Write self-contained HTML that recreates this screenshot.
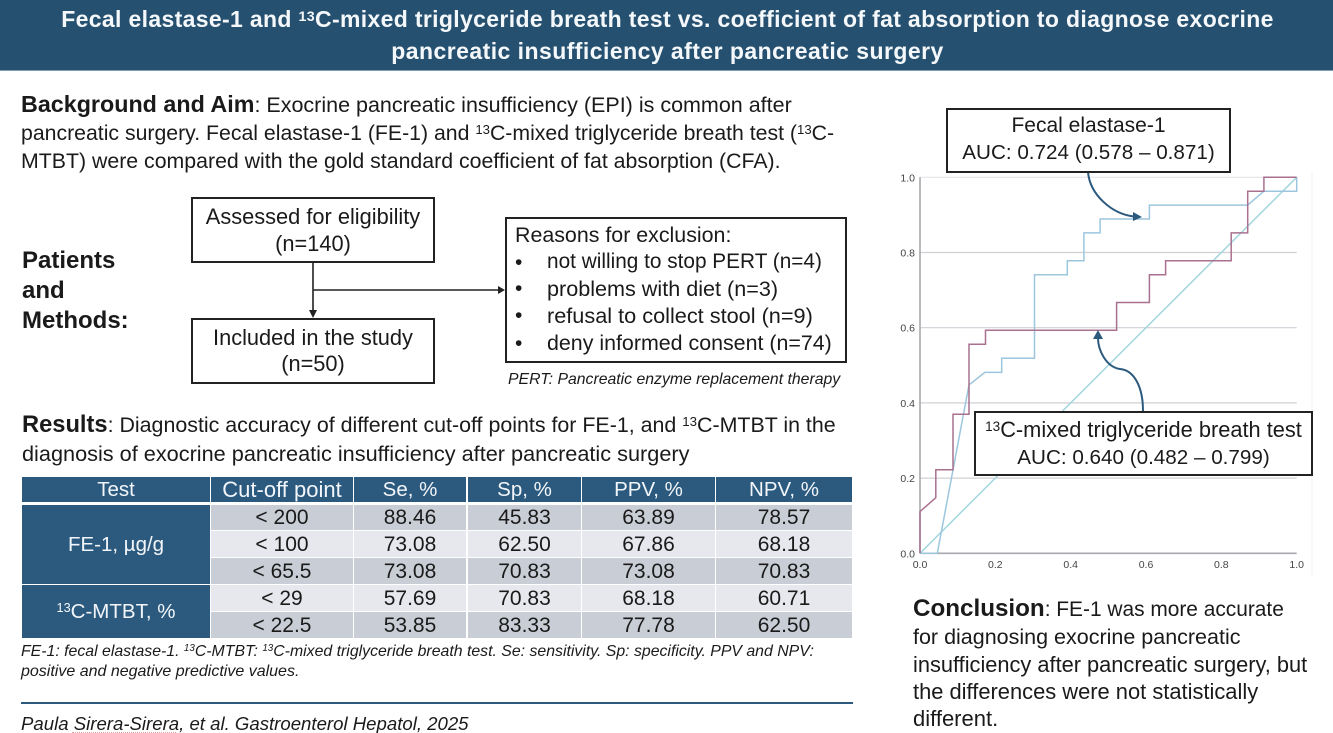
<!DOCTYPE html>
<html lang="en">
<head>
<meta charset="utf-8">
<title>Fecal elastase-1 and 13C-MTBT graphical abstract</title>
<style>
html,body{margin:0;padding:0;background:#fff}
#page{position:relative;width:1333px;height:733px;overflow:hidden;background:#fff;font-family:"Liberation Sans",sans-serif;color:#1a1a1a}
.t{position:absolute;white-space:nowrap;line-height:1}
.c{text-align:center}
sup{font-size:.62em;line-height:0;vertical-align:baseline;position:relative;top:-.42em}
.box{position:absolute;box-sizing:border-box;border:2px solid #222;background:#fff}
.cell{position:absolute;box-sizing:border-box;padding-top:1px;display:flex;align-items:center;justify-content:center;font-size:21px;line-height:1;white-space:nowrap}
.h{background:#2c5a7f;color:#f2f6fa;font-size:20.5px}
.o{background:#c9ced6}
.e{background:#e6e8ed}
svg{position:absolute;left:0;top:0}
</style>
</head>
<body>
<div id="page">

<div style="position:absolute;left:0;top:0;width:1333px;height:70px;background:#26506f;border-bottom:1px solid #7fa0b8"></div>
<div class="t c" style="left:0;width:1335px;top:8px;font-size:23px;letter-spacing:.34px;font-weight:bold;color:#f4f8fb">Fecal elastase-1 and <sup>13</sup>C-mixed triglyceride breath test vs. coefficient of fat absorption to diagnose exocrine</div>
<div class="t c" style="left:0;width:1335px;top:40px;font-size:23px;letter-spacing:.45px;font-weight:bold;color:#f4f8fb">pancreatic insufficiency after pancreatic surgery</div>

<div class="t" style="left:21px;top:93px;font-size:21.5px"><b style="font-size:23.3px">Background and Aim</b>: Exocrine pancreatic insufficiency (EPI) is common after</div>
<div class="t" style="left:21px;top:123px;font-size:21.25px">pancreatic surgery. Fecal elastase-1 (FE-1) and <sup>13</sup>C-mixed triglyceride breath test (<sup>13</sup>C-</div>
<div class="t" style="left:21px;top:151px;font-size:21.3px">MTBT) were compared with the gold standard coefficient of fat absorption (CFA).</div>

<div class="t" style="left:22px;top:249px;font-size:24px;font-weight:bold">Patients</div>
<div class="t" style="left:22px;top:279px;font-size:24px;font-weight:bold">and</div>
<div class="t" style="left:22px;top:309px;font-size:24px;font-weight:bold">Methods:</div>

<div class="box" style="left:191px;top:197px;width:244px;height:66px"></div>
<div class="t c" style="left:191px;width:244px;top:206px;font-size:21.8px">Assessed for eligibility</div>
<div class="t c" style="left:191px;width:244px;top:233px;font-size:21.8px">(n=140)</div>
<div class="box" style="left:191px;top:318px;width:244px;height:66px"></div>
<div class="t c" style="left:191px;width:244px;top:326.5px;font-size:21.8px">Included in the study</div>
<div class="t c" style="left:191px;width:244px;top:353px;font-size:21.8px">(n=50)</div>

<div class="box" style="left:505px;top:217px;width:342px;height:146px"></div>
<div class="t" style="left:515px;top:225px;font-size:21.4px">Reasons for exclusion:</div>
<div class="t" style="left:515px;top:252px;font-size:21px">•</div>
<div class="t" style="left:547px;top:252px;font-size:20.8px">not willing to stop PERT (n=4)</div>
<div class="t" style="left:515px;top:278px;font-size:21px">•</div>
<div class="t" style="left:547px;top:278px;font-size:21.6px">problems with diet (n=3)</div>
<div class="t" style="left:515px;top:305px;font-size:21px">•</div>
<div class="t" style="left:547px;top:305px;font-size:21.7px">refusal to collect stool (n=9)</div>
<div class="t" style="left:515px;top:333px;font-size:21px">•</div>
<div class="t" style="left:547px;top:333px;font-size:21.4px">deny informed consent (n=74)</div>
<div class="t" style="left:508px;top:372px;font-size:15.8px;font-style:italic">PERT: Pancreatic enzyme replacement therapy</div>

<svg width="1333" height="733">
  <line x1="313" y1="262" x2="313" y2="312" stroke="#222" stroke-width="1.6"/>
  <polygon points="309,310 317,310 313,318" fill="#222"/>
  <line x1="313" y1="290" x2="500" y2="290" stroke="#222" stroke-width="1.6"/>
  <polygon points="498,286 505,290 498,294" fill="#222"/>
</svg>

<div class="t" style="left:22px;top:414px;font-size:21.4px"><b style="font-size:23.7px">Results</b>: Diagnostic accuracy of different cut-off points for FE-1, and <sup>13</sup>C-MTBT in the</div>
<div class="t" style="left:22px;top:443px;font-size:21.7px">diagnosis of exocrine pancreatic insufficiency after pancreatic surgery</div>

<div>
<div class="cell h" style="left:22px;top:477px;width:188px;height:25px">Test</div>
<div class="cell h" style="left:211px;top:477px;width:142px;height:25px;font-size:22px">Cut-off point</div>
<div class="cell h" style="left:354px;top:477px;width:112px;height:25px">Se, %</div>
<div class="cell h" style="left:468px;top:477px;width:113px;height:25px">Sp, %</div>
<div class="cell h" style="left:582px;top:477px;width:133px;height:25px">PPV, %</div>
<div class="cell h" style="left:716px;top:477px;width:136px;height:25px">NPV, %</div>

<div class="cell h" style="left:22px;top:505px;width:188px;height:79px">FE-1, µg/g</div>
<div class="cell h" style="left:22px;top:585px;width:188px;height:53px"><span><sup>13</sup>C-MTBT, %</span></div>

<div class="cell o" style="left:211px;top:505px;width:142px;height:25px;padding-top:0">&lt; 200</div>
<div class="cell o" style="left:354px;top:505px;width:112px;height:25px;padding-top:0">88.46</div>
<div class="cell o" style="left:468px;top:505px;width:113px;height:25px;padding-top:0">45.83</div>
<div class="cell o" style="left:582px;top:505px;width:133px;height:25px;padding-top:0">63.89</div>
<div class="cell o" style="left:716px;top:505px;width:136px;height:25px;padding-top:0">78.57</div>

<div class="cell e" style="left:211px;top:531px;width:142px;height:26px">&lt; 100</div>
<div class="cell e" style="left:354px;top:531px;width:112px;height:26px">73.08</div>
<div class="cell e" style="left:468px;top:531px;width:113px;height:26px">62.50</div>
<div class="cell e" style="left:582px;top:531px;width:133px;height:26px">67.86</div>
<div class="cell e" style="left:716px;top:531px;width:136px;height:26px">68.18</div>

<div class="cell o" style="left:211px;top:558px;width:142px;height:26px">&lt; 65.5</div>
<div class="cell o" style="left:354px;top:558px;width:112px;height:26px">73.08</div>
<div class="cell o" style="left:468px;top:558px;width:113px;height:26px">70.83</div>
<div class="cell o" style="left:582px;top:558px;width:133px;height:26px">73.08</div>
<div class="cell o" style="left:716px;top:558px;width:136px;height:26px">70.83</div>

<div class="cell e" style="left:211px;top:585px;width:142px;height:26px">&lt; 29</div>
<div class="cell e" style="left:354px;top:585px;width:112px;height:26px">57.69</div>
<div class="cell e" style="left:468px;top:585px;width:113px;height:26px">70.83</div>
<div class="cell e" style="left:582px;top:585px;width:133px;height:26px">68.18</div>
<div class="cell e" style="left:716px;top:585px;width:136px;height:26px">60.71</div>

<div class="cell o" style="left:211px;top:612px;width:142px;height:26px">&lt; 22.5</div>
<div class="cell o" style="left:354px;top:612px;width:112px;height:26px">53.85</div>
<div class="cell o" style="left:468px;top:612px;width:113px;height:26px">83.33</div>
<div class="cell o" style="left:582px;top:612px;width:133px;height:26px">77.78</div>
<div class="cell o" style="left:716px;top:612px;width:136px;height:26px">62.50</div>
</div>

<div class="t" style="left:21px;top:643.5px;font-size:15.85px;font-style:italic">FE-1: fecal elastase-1. <sup>13</sup>C-MTBT: <sup>13</sup>C-mixed triglyceride breath test. Se: sensitivity. Sp: specificity. PPV and NPV:</div>
<div class="t" style="left:21px;top:664px;font-size:16px;font-style:italic">positive and negative predictive values.</div>
<div style="position:absolute;left:21px;top:702px;width:832px;height:2px;background:#2c5a7f"></div>
<div class="t" style="left:21px;top:715px;font-size:18.6px;font-style:italic">Paula Sirera-Sirera, et al. Gastroenterol Hepatol, 2025</div>
<div style="position:absolute;left:72px;top:732px;width:104px;height:0;border-top:1px dotted #e0a0a0"></div>

<svg id="roc" width="1333" height="733"></svg>

<div class="box" style="left:946px;top:108px;width:285px;height:65px"></div>
<div class="t c" style="left:946px;width:285px;top:115px;font-size:21px">Fecal elastase-1</div>
<div class="t c" style="left:946px;width:285px;top:142.5px;font-size:20.65px">AUC: 0.724 (0.578 – 0.871)</div>
<div class="box" style="left:974px;top:411px;width:339px;height:65px"></div>
<div class="t c" style="left:974px;width:339px;top:418.5px;font-size:21.8px"><sup>13</sup>C-mixed triglyceride breath test</div>
<div class="t c" style="left:974px;width:339px;top:447.5px;font-size:20.65px">AUC: 0.640 (0.482 – 0.799)</div>

<div class="t" style="left:913px;top:596.5px;font-size:20.9px"><b style="font-size:24.2px">Conclusion</b>: FE-1 was more accurate</div>
<div class="t" style="left:913px;top:627px;font-size:21.5px">for diagnosing exocrine pancreatic</div>
<div class="t" style="left:913px;top:653.5px;font-size:21.8px">insufficiency after pancreatic surgery, but</div>
<div class="t" style="left:913px;top:680.5px;font-size:21.9px">the differences were not statistically</div>
<div class="t" style="left:913px;top:707.5px;font-size:22px">different.</div>
</div>

<script>
var xTicks = [0, 0.2, 0.4, 0.6, 0.8, 1];
var yTicks = [0, 0.2, 0.4, 0.6, 0.8, 1];
var tickLabels = ['0.0', '0.2', '0.4', '0.6', '0.8', '1.0'];
var fe1Fpr = [0, 0.046, 0.13, 0.172, 0.217, 0.217, 0.304, 0.304, 0.391, 0.391, 0.435, 0.435, 0.478, 0.478, 0.609, 0.609, 0.87, 0.913, 1, 1];
var fe1Tpr = [0, 0, 0.448, 0.481, 0.481, 0.519, 0.519, 0.741, 0.741, 0.778, 0.778, 0.852, 0.852, 0.889, 0.889, 0.926, 0.926, 0.963, 0.963, 1];
var mtbtFpr = [0, 0, 0.042, 0.042, 0.0875, 0.0875, 0.13, 0.13, 0.174, 0.174, 0.522, 0.522, 0.609, 0.609, 0.652, 0.652, 0.826, 0.826, 0.87, 0.87, 0.913, 0.913, 1];
var mtbtTpr = [0, 0.111, 0.148, 0.222, 0.222, 0.37, 0.37, 0.556, 0.556, 0.593, 0.593, 0.667, 0.667, 0.741, 0.741, 0.778, 0.778, 0.852, 0.852, 0.963, 0.963, 1, 1];
var refFpr = [0, 1];
var refTpr = [0, 1];

var NS = 'http://www.w3.org/2000/svg';
var svg = document.getElementById('roc');
function sx(v) { return 920 + v * 376.7; }
function sy(v) { return 553.3 - v * 376; }
function mk(tag, attrs) {
  var el = document.createElementNS(NS, tag);
  for (var k in attrs) el.setAttribute(k, attrs[k]);
  svg.appendChild(el);
  return el;
}
function pts(xs, ys) {
  return xs.map(function (x, i) { return sx(x).toFixed(1) + ',' + sy(ys[i]).toFixed(1); }).join(' ');
}

var frame = mk('line', { x1: 1312, y1: 172, x2: 1312, y2: 576, stroke: '#f2f2f4', 'stroke-width': 1 });



yTicks.forEach(function (v, i) {
  if (v > 0) {
    var g = mk('line', { x1: sx(0), y1: sy(v), x2: sx(1), y2: sy(v), stroke: v === 1 ? '#e6e6ea' : '#cfd0d6', 'stroke-width': 1.2 });
    
    
  }
  var yl = mk('text', { x: 915, y: sy(v) + 4, 'text-anchor': 'end', 'font-size': 10.5, fill: '#444', 'font-family': '"Liberation Sans", sans-serif' });
  yl.textContent = tickLabels[i];
  
  
});
xTicks.forEach(function (v, i) {
  var xl = mk('text', { x: sx(v), y: 568, 'text-anchor': 'middle', 'font-size': 10.5, fill: '#444', 'font-family': '"Liberation Sans", sans-serif' });
  xl.textContent = tickLabels[i];
  
  
});

var ya = mk('line', { x1: sx(0), y1: sy(1), x2: sx(0), y2: sy(0), stroke: '#a8a8ae', 'stroke-width': 1.6 });


var xa = mk('line', { x1: sx(0), y1: sy(0), x2: sx(1), y2: sy(0), stroke: '#a8a8ae', 'stroke-width': 1.6 });



var refLine = mk('polyline', { points: pts(refFpr, refTpr), fill: 'none', stroke: '#a3d6dc', 'stroke-width': 1.5 });


var feLine = mk('polyline', { points: pts(fe1Fpr, fe1Tpr), fill: 'none', stroke: '#9cc6de', 'stroke-width': 1.5 });


var mtLine = mk('polyline', { points: pts(mtbtFpr, mtbtTpr), fill: 'none', stroke: '#a9708f', 'stroke-width': 1.5 });



var a1 = mk('path', { d: 'M1088 172 C1090 195,1112 214,1134 216.5', fill: 'none', stroke: '#2c5a7f', 'stroke-width': 2 });


var h1 = mk('polygon', { points: '1142,217 1133,212 1133,221', fill: '#2c5a7f' });


var a2 = mk('path', { d: 'M1143 411 C1143 385,1133 370,1120 369 C1106 367,1098 350,1098 338', fill: 'none', stroke: '#2c5a7f', 'stroke-width': 2 });


var h2 = mk('polygon', { points: '1098,330 1093,339 1103,339', fill: '#2c5a7f' });


</script>
</body>
</html>
